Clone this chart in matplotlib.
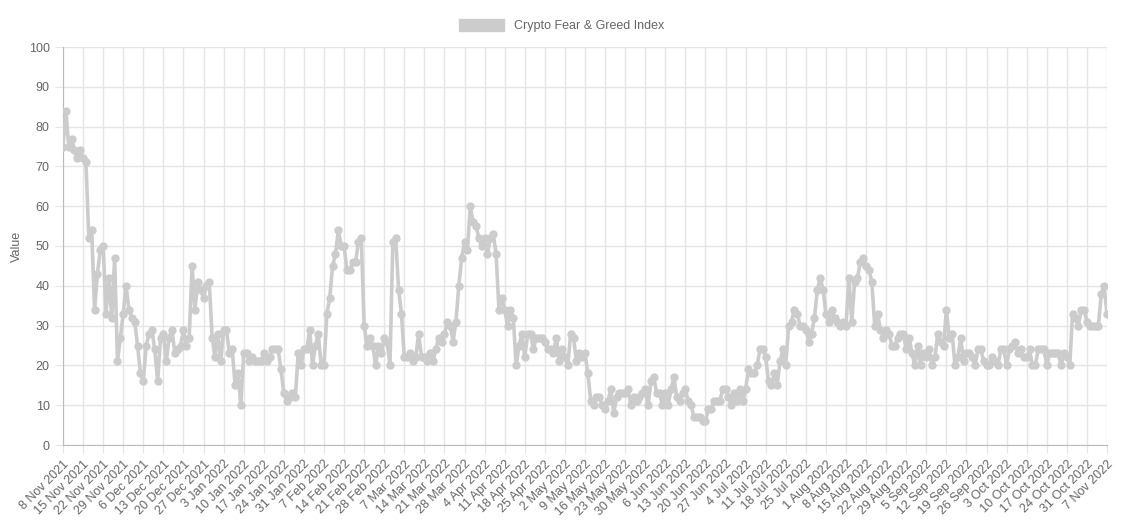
import datetime as dt
import matplotlib
matplotlib.use("Agg")
import matplotlib.pyplot as plt

plt.rcParams["font.family"] = ["Liberation Sans", "DejaVu Sans"]

start = dt.date(2021, 11, 8)

values = [
    75, 84, 75, 77, 74, 72, 74,
    72, 71, 52, 54, 34, 43, 49,
    50, 33, 42, 32, 47, 21, 27,
    33, 40, 34, 32, 31, 25, 18,
    16, 25, 28, 29, 24, 16, 27,
    28, 21, 27, 29, 23, 24, 25,
    29, 25, 27, 45, 34, 41, 39,
    37, 40, 41, 27, 22, 28, 21,
    29, 29, 23, 24, 15, 18, 10,
    23, 23, 21, 22, 21, 21, 21,
    23, 21, 22, 24, 24, 24, 19,
    13, 11, 12, 13, 12, 23, 20,
    24, 24, 29, 20, 25, 28, 20,
    20, 33, 37, 45, 48, 54, 50,
    50, 44, 44, 46, 46, 51, 52,
    30, 25, 27, 25, 20, 25, 23,
    27, 26, 20, 51, 52, 39, 33,
    22, 22, 23, 21, 22, 28, 22,
    22, 21, 23, 21, 24, 27, 26,
    28, 31, 30, 26, 31, 40, 47,
    51, 49, 60, 56, 55, 52, 50,
    52, 48, 52, 53, 48, 34, 37,
    34, 30, 34, 32, 20, 25, 28,
    22, 28, 28, 24, 27, 27, 27,
    26, 24, 24, 23, 27, 21, 24,
    22, 20, 28, 27, 21, 23, 22,
    23, 18, 11, 10, 12, 12, 10,
    9, 11, 14, 8, 12, 13, 13,
    13, 14, 10, 12, 11, 12, 13,
    14, 10, 16, 17, 13, 13, 10,
    13, 10, 14, 17, 12, 11, 13,
    14, 11, 10, 7, 7, 7, 6,
    6, 9, 9, 11, 11, 11, 14,
    14, 12, 10, 13, 11, 14, 11,
    14, 19, 18, 18, 20, 24, 24,
    22, 16, 15, 18, 15, 21, 24,
    20, 30, 31, 34, 33, 30, 30,
    29, 26, 28, 32, 39, 42, 39,
    33, 31, 34, 32, 31, 30, 31,
    30, 42, 31, 41, 42, 46, 47,
    45, 44, 41, 30, 33, 29, 27,
    29, 28, 25, 25, 27, 28, 28,
    24, 27, 23, 20, 25, 20, 23,
    22, 24, 20, 22, 28, 26, 25,
    34, 27, 28, 20, 22, 27, 21,
    23, 23, 22, 20, 24, 24, 21,
    20, 20, 22, 21, 20, 24, 24,
    20, 24, 25, 26, 23, 24, 22,
    22, 24, 20, 20, 24, 24, 24,
    20, 23, 23, 23, 23, 20, 23,
    22, 20, 33, 32, 30, 34, 34,
    31, 30, 30, 30, 30, 38, 40,
    33,
]

days = list(range(len(values)))
tick_pos = days[::7]
tick_labels = []
for d in tick_pos:
    day = start + dt.timedelta(days=d)
    tick_labels.append("%d %s" % (day.day, day.strftime("%b %Y")))

fig = plt.figure(figsize=(11.23, 5.21), dpi=100)
ax = fig.add_axes([63 / 1123, 76 / 521, 1044 / 1123, 398 / 521])

ax.plot(days, values, color="#cccccc", lw=2.6, marker="o", ms=5,
        label="Crypto Fear & Greed Index", zorder=3)

ax.set_xlim(0, len(values) - 1)
ax.set_ylim(0, 100)
ax.set_yticks(range(0, 101, 10))
ax.set_xticks(tick_pos)
ax.set_xticklabels(tick_labels, rotation=45, ha="right", rotation_mode="anchor")
ax.tick_params(colors="#666666", labelsize=9, length=6)
ax.tick_params(axis="x", color="#e5e5e5")
ax.tick_params(axis="y", color="#e5e5e5")
ax.grid(True, color="#e5e5e5", lw=1)
for s in ["top", "right"]:
    ax.spines[s].set_visible(False)
ax.spines["left"].set_color("#bbbbbb")
ax.spines["bottom"].set_color("#bbbbbb")
ax.set_ylabel("Value", color="#666666", fontsize=9)

leg = fig.legend(handles=[plt.Rectangle((0, 0), 1, 1, fc="#cccccc", ec="#cccccc")],
                 labels=["Crypto Fear & Greed Index"], loc="upper center",
                 bbox_to_anchor=(0.5, 0.985), frameon=False, fontsize=9,
                 handlelength=3.6, handleheight=1.1)
for t in leg.get_texts():
    t.set_color("#666666")

fig.savefig("out.png", dpi=100)
